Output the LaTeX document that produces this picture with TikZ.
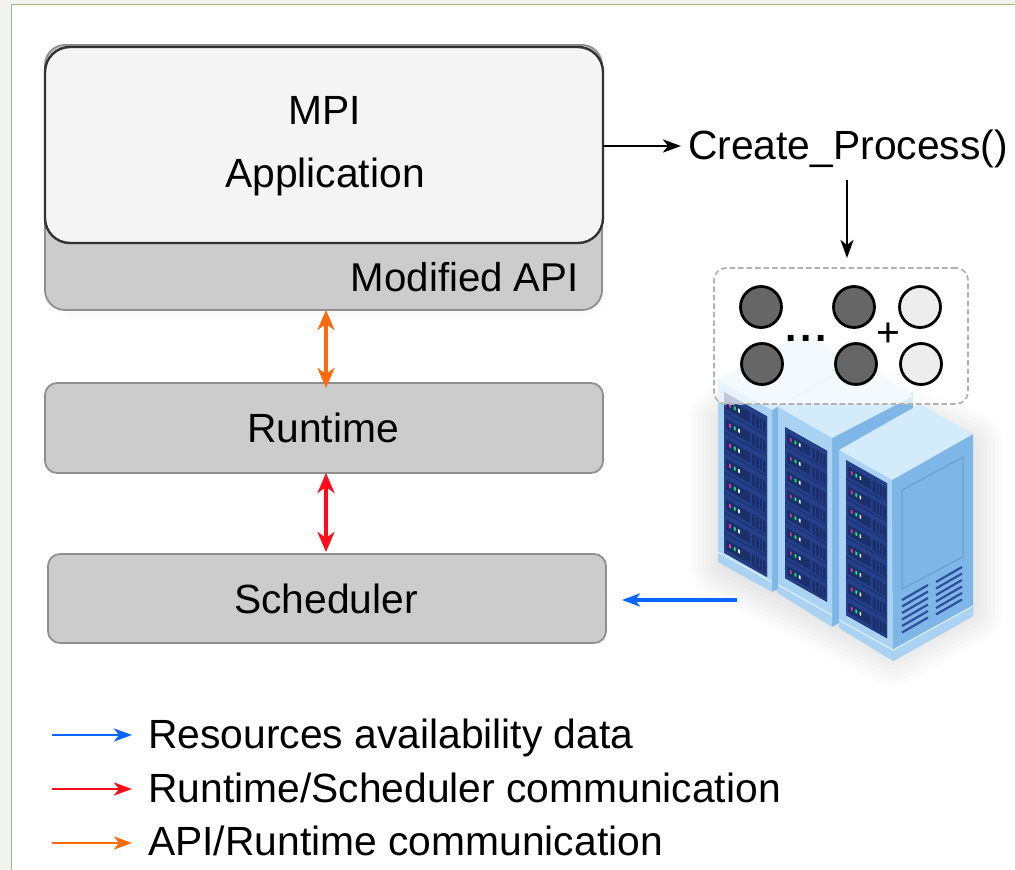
\documentclass[tikz,border=0pt]{standalone}
\usepackage{fontspec}
\setmainfont{Liberation Sans}
\usetikzlibrary{arrows.meta}
\definecolor{boxgray}{HTML}{CCCCCC}
\definecolor{boxline}{HTML}{8F8F8F}
\definecolor{appfill}{HTML}{F4F4F4}
\definecolor{roofc}{HTML}{D4EBFB}
\definecolor{sidec}{HTML}{7FB6E8}
\definecolor{frontc}{HTML}{A9D2F3}
\definecolor{panelc}{HTML}{24408A}
\definecolor{slotc}{HTML}{1B2F6B}
\definecolor{grillc}{HTML}{2F4F9E}
\definecolor{myblue}{HTML}{0A66FF}
\definecolor{myred}{HTML}{FF0D1A}
\definecolor{myorange}{HTML}{FF6A0D}
\definecolor{pagegreen}{HTML}{A3BE78}
\newcommand{\txtsize}{\fontsize{40.8}{44}\selectfont}
\tikzset{
 x=1pt,y=-1pt,
 tipped/.style={line width=2.8pt,-{Stealth[length=18pt,width=13pt,inset=5pt]}},
 twotip/.style={line width=3.4pt,{Stealth[length=20pt,width=17pt,inset=6pt]}-{Stealth[length=20pt,width=17pt,inset=6pt]}},
 graybox/.style={draw=boxline,line width=1.8pt,fill=boxgray,inner sep=0pt,font=\txtsize},
 label/.style={inner sep=0pt,font=\txtsize,anchor=base west},
 proc/.style={circle,draw=black,line width=2.8pt,minimum size=41pt,inner sep=0pt},
 dark/.style={proc,fill=black!60},
 lightp/.style={proc,fill=black!7},
}
% xl, y top, xr, unit height, count
\newcommand{\rackpanel}[5]{%
 \pgfmathsetmacro{\rw}{#3-#1}%
 \pgfmathsetmacro{\rd}{(#3-#1)*0.565}%
 \pgfmathsetmacro{\rh}{#4*#5}%
 \fill[slotc] (#1,#2)--(#3,#2+\rd)--(#3,#2+\rd+\rh)--(#1,#2+\rh)--cycle;
 \foreach \i in {1,...,#5}{%
  \pgfmathsetmacro{\ry}{#2+(\i-1)*#4}%
  \begin{scope}[shift={(#1,\ry)},x={(\rw pt,-\rd pt)},y={(0pt,-#4 pt)}]
   \fill[panelc] (0,.02)--(1,.02)--(1,.95)--(0,.95)--cycle;
   \fill[slotc] (.05,.28)--(.6,.28)--(.6,.8)--(.05,.8)--cycle;
   \fill[slotc] (.65,.28)--(.97,.28)--(.97,.86)--(.65,.86)--cycle;
   \foreach \g in {.73,.81,.89}{\draw[panelc,line width=.6pt] (\g,.3)--(\g,.84);}
   \fill[magenta!80!white] (.12,.42)--(.16,.42)--(.16,.6)--(.12,.6)--cycle;
   \fill[green!60!cyan] (.23,.42)--(.27,.42)--(.27,.6)--(.23,.6)--cycle;
   \fill[white!90!cyan] (.33,.42)--(.37,.42)--(.37,.6)--(.33,.6)--cycle;
  \end{scope}
 }%
}
\newcommand{\softshadow}[2]{%
 \foreach \w in {70,62,54,46,38,30,22,14,6}{%
  \draw[black,opacity=#2,fill=black,line width=\w pt,line join=round] #1;
 }%
}
\begin{document}
\begin{tikzpicture}
\useasboundingbox (0,0) rectangle (1015,870);
% page
\fill[white] (0,0) rectangle (1015,870);
\fill[black!5] (0,0) rectangle (11,870);
\fill[black!5] (0,0) rectangle (1015,4);
\draw[draw=pagegreen,line width=1pt] (11,870)--(11,4.5)--(1015,4.5);
% server illustration
\softshadow{(725,420)--(810,370)--(968,445)--(968,610)--(893,650)--(725,565)--cycle}{.011}
% rack 1
\fill[sidec] (772,410)--(853,364)--(853,545)--(772,592)--cycle;
\fill[frontc] (718,380)--(772,410)--(772,592)--(718,562)--cycle;
\fill[roofc] (718,380)--(805,333)--(853,364)--(772,410)--cycle;
\rackpanel{724}{392}{767}{20.1}{8}
\draw[white!70!frontc,line width=1pt] (718,552)--(772,582);
% rack 2
\fill[sidec] (832,438)--(913,392)--(913,580)--(832,627)--cycle;
\fill[frontc] (778,407)--(832,438)--(832,627)--(778,593)--cycle;
\fill[roofc] (778,407)--(859,361)--(913,396)--(832,438)--cycle;
\rackpanel{785}{427}{827}{18.9}{8}
\draw[white!70!frontc,line width=1pt] (778,585)--(832,615);
% rack 3
\fill[frontc] (839,450)--(892,480)--(893,661)--(839,628)--cycle;
\fill[sidec] (892,480)--(973,434)--(973,616)--(893,661)--cycle;
\fill[roofc] (839,450)--(920,404)--(973,434)--(892,480)--cycle;
\rackpanel{846}{460}{887}{19.4}{8}
\draw[draw=sidec!85!black,line width=1pt,fill=sidec] (902,490)--(963,457)--(963,557)--(902,589)--cycle;
\foreach \k in {0,...,5}{
 \draw[grillc,line width=2.2pt] (902,600+\k*6.5)--(928,585+\k*6.5);
 \draw[grillc,line width=2.2pt] (936,582+\k*6.5)--(962,567+\k*6.5);
}
\fill[frontc] (893,650)--(973,606)--(973,616)--(893,661)--cycle;
\draw[white!70!frontc,line width=1pt] (839,620)--(893,650)--(973,606);
% process box
\node[draw=black!30,dash pattern=on 5.5pt off 3pt,line width=1.7pt,fill=white,fill opacity=.72,rounded corners=12pt,minimum width=254pt,minimum height=136pt,inner sep=0pt] (pool) at (841,336) {};
\node[dark] (p1) at (761,307) {};
\node[dark] (p2) at (762,364) {};
\node[dark] (p3) at (854,307) {};
\node[dark] (p4) at (856,364) {};
\node[lightp] (p5) at (920,307) {};
\node[lightp] (p6) at (921,364) {};
\node[inner sep=0pt,font=\txtsize\bfseries,anchor=base] (dots) at (806,341) {.\kern4pt.\kern4pt.};
\node[inner sep=0pt,font=\txtsize] (plus) at (888,335) {+};
% main boxes
\softshadow{(75,75)--(575,75)--(575,285)--(75,285)--cycle}{.006}
\node[graybox,rounded corners=20pt,minimum width=557pt,minimum height=265pt] (api) at (323.5,177.5) {};
\node[draw=black!80,line width=2.4pt,fill=appfill,rounded corners=25pt,minimum width=558pt,minimum height=196pt,inner sep=0pt] (app) at (324,145) {};
\node[inner sep=0pt,font=\txtsize,anchor=base] (mpi) at (325,124) {MPI};
\node[inner sep=0pt,font=\txtsize,anchor=base] (appl) at (325,187) {Application};
\node[inner sep=0pt,font=\fontsize{40.2}{44}\selectfont,anchor=base east] (mod) at (579,291) {Modified API};
\node[graybox,rounded corners=12pt,minimum width=558pt,minimum height=90pt] (rt) at (324,428) {};
\node[inner sep=0pt,font=\txtsize,anchor=base] (rtl) at (323,442) {Runtime};
\node[graybox,rounded corners=12pt,minimum width=558pt,minimum height=89pt] (sch) at (327,598.5) {};
\node[inner sep=0pt,font=\txtsize,anchor=base] (schl) at (326,613) {Scheduler};
\node[inner sep=0pt,font=\txtsize,anchor=base west] (cp) at (688,159) {Create\_Process()};
% connectors
\coordinate (apir) at (326,310);
\coordinate (rta) at (326,388);
\coordinate (rtb) at (326,473);
\coordinate (scht) at (326,552);
\coordinate (appe) at (603,146);
\coordinate (cpw) at (681,146);
\coordinate (cpt) at (847,180);
\coordinate (poolt) at (847,258);
\coordinate (bs) at (737,600);
\coordinate (be) at (622,600);
\draw[twotip,myorange] (apir)--(rta);
\draw[twotip,myred] (rtb)--(scht);
\draw[tipped,black] (appe)--(cpw);
\draw[tipped,black] (cpt)--(poolt);
\draw[tipped,myblue,line width=3.2pt] (bs)--(be);
% legend
\coordinate (l1a) at (52,735); \coordinate (l1b) at (132,735);
\coordinate (l2a) at (52,789); \coordinate (l2b) at (132,789);
\coordinate (l3a) at (52,843); \coordinate (l3b) at (132,843);
\draw[tipped,myblue] (l1a)--(l1b);
\draw[tipped,myred] (l2a)--(l2b);
\draw[tipped,myorange] (l3a)--(l3b);
\node[label] (t1) at (148,748) {Resources availability data};
\node[label] (t2) at (148,802) {Runtime/Scheduler communication};
\node[label] (t3) at (148,855) {API/Runtime communication};
\end{tikzpicture}
\end{document}
